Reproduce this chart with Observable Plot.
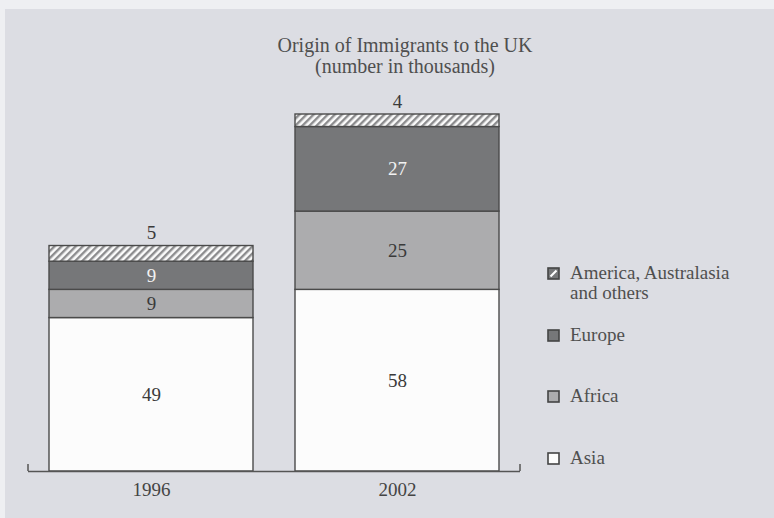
<!DOCTYPE html>
<html><head><meta charset="utf-8">
<script src="https://cdn.jsdelivr.net/npm/d3@7"></script>
<script src="https://cdn.jsdelivr.net/npm/@observablehq/plot@0.6"></script>
<style>
html,body{margin:0;padding:0;}
body{width:774px;height:518px;background:#dcdde3;position:relative;overflow:hidden;font-family:"Liberation Serif","DejaVu Serif",serif;color:#444;}
#edgeTop{position:absolute;left:0;top:0;width:774px;height:9px;background:#eeeff2;}
#edgeLeft{position:absolute;left:0;top:0;width:5px;height:518px;background:#eeeff2;}
#title{position:absolute;left:255px;width:300px;top:35px;text-align:center;font-size:20px;line-height:21px;color:#4f4f4f;}
#chart{position:absolute;left:0;top:80px;}
#legend{position:absolute;left:547px;top:0;width:227px;height:518px;}
.item{position:absolute;left:0;font-size:19px;line-height:20px;color:#4f4f4f;}
.item svg{position:absolute;left:0;top:4px;}
.item span{position:absolute;left:23px;top:0;white-space:nowrap;}
</style>
</head><body>
<div id="edgeTop"></div>
<div id="edgeLeft"></div>
<div id="title">Origin of Immigrants to the UK<br>(number in thousands)</div>
<div id="chart"></div>
<div id="legend"></div>
<script>
const years = ["1996", "2002"];
const regions = ["Asia", "Africa", "Europe", "America, Australasia and others"];
const legendLabels = ["Asia", "Africa", "Europe", "America, Australasia<br>and others"];
const asia = [49, 58];
const africa = [9, 25];
const europe = [9, 27];
const others = [5, 4];
const regionFills = ["#fcfcfc", "#acacae", "#767779", "url(#hatch)"];
const series = [asia, africa, europe, others];

const data = [];
years.forEach((yr, i) => regions.forEach((r, j) => data.push({year: yr, region: r, value: series[j][i]})));
const totals = years.map((_, i) => d3.sum(series, s => s[i]));
const Other = regions[3];
const font = '"Liberation Serif","DejaVu Serif",serif';

const plot = Plot.plot({
  width: 540, height: 438,
  marginLeft: 28, marginRight: 20, marginTop: 34, marginBottom: 47,
  style: {background: "transparent", fontFamily: font, fontSize: "19px", color: "#444"},
  x: {domain: years, paddingInner: 0.17, paddingOuter: 0.085, label: null, tickSize: 0, tickPadding: 11},
  y: {domain: [0, d3.max(totals)], axis: null},
  color: {domain: regions, range: regionFills},
  marks: [
    Plot.barY(data, {x: "year", y: "value", fill: "region", stroke: "#4a4a4a", strokeWidth: 1.4}),
    Plot.text(data, Plot.stackY({x: "year", y: "value", text: d => (d.region === "Asia" || d.region === "Africa") ? d.value : null, fill: "#3a3a3a", fontSize: 19})),
    Plot.text(data, Plot.stackY({x: "year", y: "value", text: d => d.region === "Europe" ? d.value : null, fill: "#f2f2f2", fontSize: 19})),
    Plot.text(data, Plot.stackY2({x: "year", y: "value", text: d => d.region === Other ? d.value : null, dy: -13, fill: "#3a3a3a", fontSize: 19})),
    Plot.ruleY([0], {stroke: "#555", strokeWidth: 1.5})
  ]
});

const svg = d3.select(plot);
svg.insert("defs", ":first-child").html(
  '<pattern id="hatch" patternUnits="userSpaceOnUse" width="5" height="5" patternTransform="rotate(45)">' +
  '<rect width="5" height="5" fill="#fbfbfb"/><rect width="2.4" height="5" fill="#8c8c8e"/></pattern>');
const xr = plot.scale("x").range, y0 = plot.scale("y").apply(0);
svg.append("path")
  .attr("d", `M${xr[0]},${y0 - 7}V${y0}M${xr[1]},${y0 - 7}V${y0}`)
  .attr("stroke", "#555").attr("stroke-width", 1.5).attr("fill", "none");
document.getElementById("chart").appendChild(plot);

// legend (top to bottom: reverse of stacking order)
const legend = d3.select("#legend");
const swatchFills = ["#fcfcfc", "#acacae", "#767779", "#767779"];
regions.slice().reverse().forEach((r, k) => {
  const j = regions.length - 1 - k;
  const item = legend.append("div").attr("class", "item").style("top", (263 + k * 61.5) + "px");
  const s = item.append("svg").attr("width", 13).attr("height", 13);
  s.append("rect").attr("x", 1).attr("y", 1).attr("width", 11).attr("height", 11)
    .attr("fill", swatchFills[j]).attr("stroke", "#444").attr("stroke-width", 1.6);
  if (r === Other) s.append("line").attr("x1", 3.5).attr("y1", 9.5).attr("x2", 9.5).attr("y2", 3.5)
    .attr("stroke", "#fff").attr("stroke-width", 2.2);
  item.append("span").html(legendLabels[j]);
});
</script>
</body></html>
